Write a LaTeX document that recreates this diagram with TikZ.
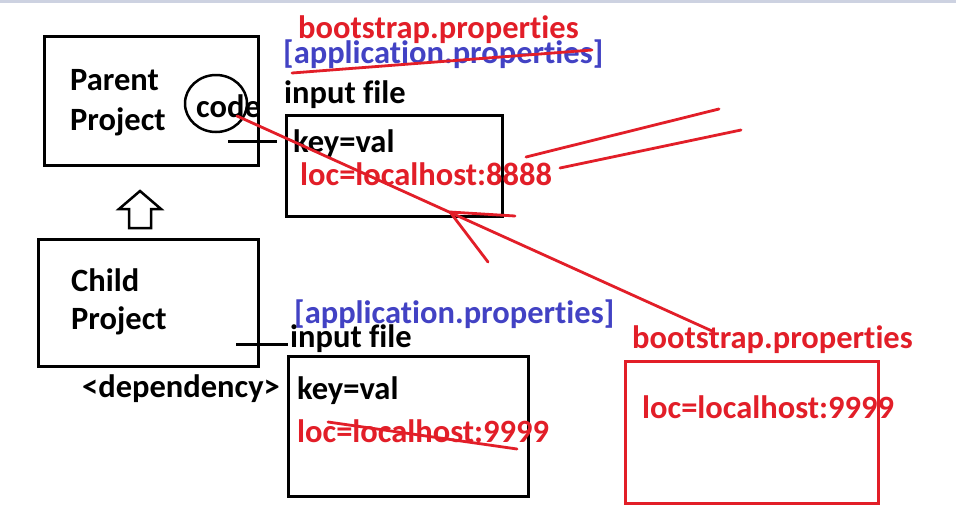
\documentclass[tikz,border=0pt]{standalone}
\usepackage{fontspec}
\setmainfont{Carlito}[Ligatures=CommonOff]
\usetikzlibrary{shapes.geometric}
\definecolor{inkred}{RGB}{226,30,40}
\definecolor{inkblue}{RGB}{66,66,196}
\definecolor{topbar}{RGB}{205,210,225}
\begin{document}
\begin{tikzpicture}[x=1pt,y=-1pt,
  lbl/.style={anchor=base west, inner sep=0pt, font=\fontsize{32.5}{38}\selectfont\bfseries},
  redlbl/.style={lbl, text=inkred},
  bluelbl/.style={lbl, text=inkblue},
  blackbox/.style={draw=black, line width=3pt, anchor=north west, inner sep=0pt},
  redbox/.style={draw=inkred, line width=3pt, anchor=north west, inner sep=0pt},
  redink/.style={draw=inkred, line width=2.8pt, line cap=round}]
\useasboundingbox (0,0) rectangle (956,509);
\fill[white] (0,0) rectangle (956,509);
\fill[topbar] (0,0) rectangle (956,2.5);

% boxes
\node[blackbox, minimum width=214pt, minimum height=129pt] (parent) at (43,35) {};
\node[blackbox, minimum width=220pt, minimum height=127pt] (child) at (37,238) {};
\node[blackbox, minimum width=216pt, minimum height=101pt] (file1) at (285,114) {};
\node[blackbox, minimum width=240pt, minimum height=140pt] (file2) at (287,355) {};
\node[redbox, minimum width=253pt, minimum height=142pt] (boot2) at (624,360) {};

% parent / child texts
\node[lbl] (ptxt1) at (70,90) {Parent};
\node[lbl] (ptxt2) at (70,130) {Project};
\node[lbl] (ctxt1) at (71,291) {Child};
\node[lbl] (ctxt2) at (71,329) {Project};
\node[lbl] (dep) at (82,397) {<dependency>};
\node[lbl] (code) at (196,117) {code};
\node[draw, line width=2.5pt, ellipse, minimum width=62pt, minimum height=57pt, inner sep=0pt] (codecirc) at (216,103.5) {};

% upper file
\node[redlbl] (bootA) at (298,38) {bootstrap.properties};
\node[bluelbl] (appA) at (283,63) {[application.properties]};
\node[lbl] (inA) at (284,103) {input file};
\node[lbl] (keyA) at (293,152) {key=val};
\node[redlbl] (locA) at (300,185) {loc=localhost:8888};

% lower file
\node[bluelbl] (appB) at (294,323) {[application.properties]};
\node[lbl] (inB) at (290,347) {input file};
\node[lbl] (keyB) at (297,399) {key=val};
\node[redlbl] (locB) at (297,442) {loc=localhost:9999};

% bootstrap box
\node[redlbl] (bootB) at (632,348) {bootstrap.properties};
\node[redlbl] (locC) at (642,418) {loc=localhost:9999};

% coordinates
\coordinate (pstub) at (228,141);
\coordinate (pstubend) at (277,141);
\coordinate (cstub) at (236,344);
\coordinate (cstubend) at (288,344);
\coordinate (codeend) at (237,116);
\coordinate (bootend) at (712,331);
\coordinate (tip) at (450,212);
\coordinate (barb1) at (515,216);
\coordinate (barb2) at (488,262);
\coordinate (s1a) at (292,73);
\coordinate (s1b) at (592,50);
\coordinate (s2a) at (328,422);
\coordinate (s2b) at (517,449);
\coordinate (r1a) at (526,157);
\coordinate (r1b) at (719,109);
\coordinate (r2a) at (560,168);
\coordinate (r2b) at (741,130);

% black stubs
\draw[line width=3pt] (pstub) -- (pstubend);
\draw[line width=3pt] (cstub) -- (cstubend);

% hollow up arrow
\draw[line width=2.5pt, line join=miter] (140,191) -- (161,209) -- (151,209) -- (151,228) -- (129,228) -- (129,209) -- (119,209) -- cycle;

% red ink
\draw[redink] (s1a) -- (s1b);
\draw[redink] (s2a) -- (s2b);
\draw[redink] (codeend) -- (bootend);
\draw[redink] (tip) -- (barb1);
\draw[redink] (tip) -- (barb2);
\draw[redink] (r1a) -- (r1b);
\draw[redink] (r2a) -- (r2b);
\end{tikzpicture}
\end{document}
